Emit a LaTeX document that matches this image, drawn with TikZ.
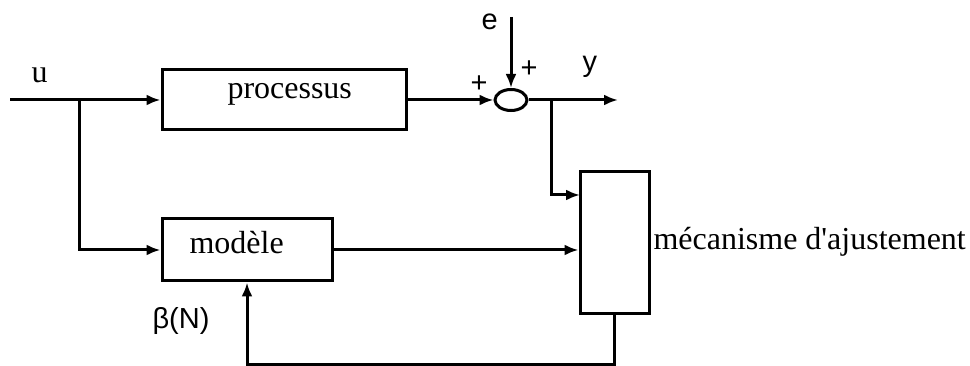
\documentclass[tikz,border=0pt]{standalone}
\usepackage{fontspec}
\setmainfont{Liberation Serif}
\newfontfamily\hsans{Liberation Sans}
\usetikzlibrary{arrows.meta,shapes.geometric}
\begin{document}
\begin{tikzpicture}[x=1pt,y=-1pt,line width=3pt,
  blk/.style={draw,rectangle,inner sep=0pt},
  arr/.style={-{Latex[length=14pt,width=11pt]}},
  lbl/.style={font=\fontsize{32}{36}\selectfont,inner sep=0pt},
  slbl/.style={font=\hsans\fontsize{29}{33}\selectfont,inner sep=0pt}]
\useasboundingbox (0,0) rectangle (970,366);
% blocks
\node[blk,minimum width=244pt,minimum height=60pt] (proc) at (284,100) {};
\node[blk,minimum width=170pt,minimum height=62pt] (mod) at (247,250) {};
\node[blk,minimum width=69pt,minimum height=142pt] (mec) at (614.5,243) {};
\node[draw,ellipse,inner sep=0pt,minimum width=32pt,minimum height=21pt] (sum) at (511,100) {};
% texts
\node[lbl,anchor=base west] (tproc) at (226,99) {processus};
\node[lbl,anchor=base west] (tmod) at (188,254) {modèle};
\node[lbl,anchor=base west] (tmec) at (652,250) {mécanisme d\textquotesingle ajustement};
\node[lbl,anchor=base west] (tu) at (30,83) {u};
\node[slbl,anchor=base west] (te) at (480,30) {e};
\node[slbl,anchor=base west] (ty) at (581,72) {y};
\node[slbl] (p1) at (479,84) {+};
\node[slbl] (p2) at (529,69) {+};
\node[slbl,anchor=base west] (tb) at (151,329) {β(N)};
% coordinates
\coordinate (in) at (10,100);
\coordinate (br) at (79,100);
\coordinate (etop) at (511,17);
\coordinate (yout) at (618,100);
\coordinate (br2) at (551,100);
\coordinate (m1) at (580,195);
% connectors
\draw[arr] (in) -- (proc.west);
\draw[arr] (br) |- (mod.west);
\draw[arr] (proc.east) -- (sum.west);
\draw[arr] (etop) -- (sum.north);
\draw[arr] (sum.east) -- (yout);
\draw[arr] (br2) |- (m1);
\draw[arr] (mod.east) -- (mod.east -| mec.west);
\draw[arr] (mec.south) -- ++(0,49) -| (mod.south);
\end{tikzpicture}
\end{document}
